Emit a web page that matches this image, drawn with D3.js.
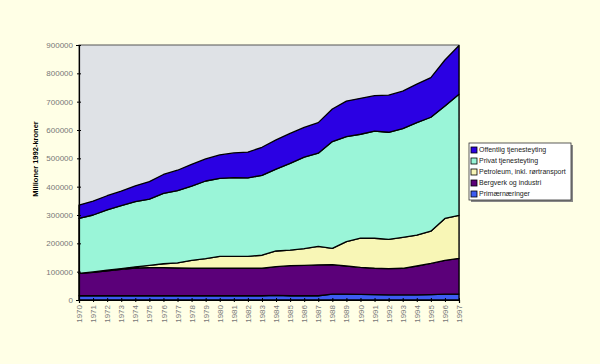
<!DOCTYPE html>
<html>
<head>
<meta charset="utf-8">
<script src="https://cdn.jsdelivr.net/npm/d3@7"></script>
<style>
  body { margin: 0; background: #ffffe6; }
  svg { display: block; }
  text { font-family: "Liberation Sans", Arial, sans-serif; }
</style>
</head>
<body>
<div id="chart"></div>
<script>
// values in millioner 1992-kroner (thousands * 1000)
const years = d3.range(1970, 1998);

const primaer = [15, 15, 15, 15, 15, 15, 15, 15, 15, 15, 15, 15, 15, 15, 16, 15, 15, 15, 21, 21, 20, 19, 18, 18, 18, 19, 21, 21];
const industri = [79, 83, 88, 93, 98, 99, 99, 98, 97, 97, 97, 97, 97, 97, 102, 106, 107, 109, 104, 99, 95, 93, 93, 94, 102, 110, 119, 126];
const petroleum = [0, 1, 2, 3, 4, 8, 14, 18, 28, 34, 42, 42, 42, 46, 55, 55, 59, 65, 57, 86, 103, 106, 103, 109, 109, 114, 148, 152];
const privat = [194, 201, 213, 222, 230, 234, 248, 255, 262, 274, 275, 278, 277, 282, 289, 306, 323, 329, 377, 371, 367, 378, 378, 384, 397, 402, 397, 427];
const offentlig = [47, 49, 50, 51, 56, 62, 67, 72, 77, 78, 83, 87, 91, 99, 103, 106, 105, 108, 115, 125, 127, 125, 131, 132, 136, 140, 162, 172];

const yTicks = [0, 100000, 200000, 300000, 400000, 500000, 600000, 700000, 800000, 900000];

const seriesKeys = ["primaer", "industri", "petroleum", "privat", "offentlig"];
const seriesNames = {
  offentlig: "Offentlig tjenesteyting",
  privat: "Privat tjenesteyting",
  petroleum: "Petroleum, inkl. rørtransport",
  industri: "Bergverk og industri",
  primaer: "Primærnæringer"
};
const colors = {
  primaer: "#3d5cf2",
  industri: "#5b0079",
  petroleum: "#f8f6b6",
  privat: "#9af5d8",
  offentlig: "#2b00e3"
};

const table = years.map((yr, i) => ({
  year: yr,
  primaer: primaer[i] * 1000,
  industri: industri[i] * 1000,
  petroleum: petroleum[i] * 1000,
  privat: privat[i] * 1000,
  offentlig: offentlig[i] * 1000
}));

const width = 600, height = 364;
const margin = { top: 45, right: 141, bottom: 64, left: 79 };

const svg = d3.select("#chart").append("svg")
  .attr("width", width)
  .attr("height", height);

const x = d3.scaleLinear()
  .domain([1970, 1997])
  .range([margin.left, width - margin.right]);

const y = d3.scaleLinear()
  .domain([0, 900000])
  .range([height - margin.bottom, margin.top]);

// plot background
svg.append("rect")
  .attr("x", x(1970))
  .attr("y", y(900000))
  .attr("width", x(1997) - x(1970))
  .attr("height", y(0) - y(900000))
  .attr("fill", "#dfe2e6")
  .attr("stroke", "#555")
  .attr("stroke-width", 1);

const stack = d3.stack().keys(seriesKeys);
const layers = stack(table);

const area = d3.area()
  .x(d => x(d.data.year))
  .y0(d => y(d[0]))
  .y1(d => y(d[1]));

svg.append("g")
  .selectAll("path")
  .data(layers)
  .join("path")
  .attr("d", area)
  .attr("fill", d => colors[d.key])
  .attr("stroke", "#000")
  .attr("stroke-width", 1.3)
  .attr("stroke-linejoin", "round");

// y axis
const yAxis = svg.append("g")
  .attr("transform", `translate(${x(1970)},0)`)
  .call(d3.axisLeft(y).tickValues(yTicks).tickFormat(d3.format("d")).tickSize(3).tickPadding(3));
yAxis.select(".domain").attr("stroke", "#000").attr("stroke-width", 1.2);
yAxis.selectAll(".tick line").attr("stroke", "#000").attr("x2", 2).attr("x1", -2);
yAxis.selectAll("text")
  .attr("fill", "#777")
  .style("font-size", "8px");

// x axis
const xAxis = svg.append("g")
  .attr("transform", `translate(0,${y(0)})`)
  .call(d3.axisBottom(x).tickValues(years).tickFormat(d3.format("d")).tickSize(3));
xAxis.select(".domain").attr("stroke", "#000").attr("stroke-width", 1.2);
xAxis.selectAll(".tick line").attr("stroke", "#000").attr("y1", -2).attr("y2", 2);
xAxis.selectAll("text")
  .attr("fill", "#777")
  .style("font-size", "8px")
  .attr("text-anchor", "end")
  .attr("transform", "rotate(-90)")
  .attr("x", -5)
  .attr("y", 0)
  .attr("dy", "0.32em");

// y title
svg.append("text")
  .attr("transform", "translate(38,159) rotate(-90)")
  .attr("text-anchor", "middle")
  .style("font-size", "7.5px")
  .style("font-weight", "bold")
  .attr("fill", "#000")
  .text("Millioner 1992-kroner");

// legend
const legendKeys = ["offentlig", "privat", "petroleum", "industri", "primaer"];
const legend = svg.append("g").attr("transform", "translate(469,143)");
legend.append("rect")
  .attr("x", 2).attr("y", 2)
  .attr("width", 102).attr("height", 57)
  .attr("fill", "#888");
legend.append("rect")
  .attr("width", 102).attr("height", 57)
  .attr("fill", "#fff")
  .attr("stroke", "#333")
  .attr("stroke-width", 0.8);
const item = legend.selectAll("g.item")
  .data(legendKeys)
  .join("g")
  .attr("class", "item")
  .attr("transform", (d, i) => `translate(2,${4 + i * 11})`);
item.append("rect")
  .attr("width", 6).attr("height", 6)
  .attr("fill", d => colors[d])
  .attr("stroke", "#000")
  .attr("stroke-width", 0.8);
item.append("text")
  .attr("x", 8)
  .attr("y", 3)
  .attr("dy", "0.35em")
  .style("font-size", "7px")
  .attr("fill", "#222")
  .text(d => seriesNames[d]);
</script>
</body>
</html>
